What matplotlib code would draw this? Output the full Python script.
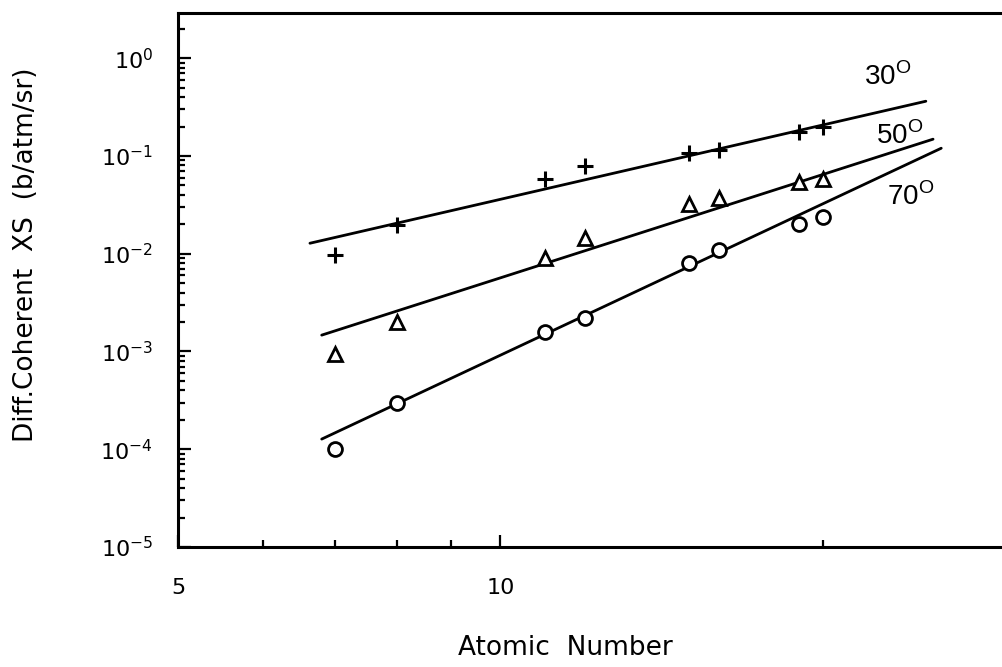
import matplotlib
matplotlib.use("Agg")
import matplotlib.pyplot as plt
from matplotlib.ticker import FixedLocator, NullFormatter

atomic_number = [7, 8, 11, 12, 15, 16, 19, 20]
xs_30deg = [0.0097, 0.0196, 0.058, 0.079, 0.107, 0.115, 0.175, 0.197]
xs_50deg = [0.00095, 0.0020, 0.0090, 0.0144, 0.032, 0.037, 0.054, 0.058]
xs_70deg = [1.0e-4, 2.96e-4, 1.6e-3, 2.2e-3, 8.0e-3, 1.09e-2, 2.0e-2, 2.4e-2]

# Fitted power-law lines (end points)
fit_x_30deg = [6.64, 24.96]
fit_y_30deg = [0.0128, 0.363]
fit_x_50deg = [6.81, 25.35]
fit_y_50deg = [0.00147, 0.1485]
fit_x_70deg = [6.81, 25.8]
fit_y_70deg = [1.27e-4, 0.12]

angle_labels = ["30", "50", "70"]

y_ticks = [1e0, 1e-1, 1e-2, 1e-3, 1e-4, 1e-5]
y_tick_labels = [r"$\mathregular{10^{0}}$", r"$\mathregular{10^{-1}}$", r"$\mathregular{10^{-2}}$",
                 r"$\mathregular{10^{-3}}$", r"$\mathregular{10^{-4}}$", r"$\mathregular{10^{-5}}$"]
x_ticks = [5, 10]
x_minor_ticks = [6, 7, 8, 9, 20]

plt.rcParams['font.family'] = ['DejaVu Sans']

W, H = 1002, 667
fig = plt.figure(figsize=(W / 100, H / 100), dpi=100)
ax = fig.add_axes([178 / W, 1 - 547 / H, (W - 178) / W, (547 - 13) / H])

ax.set_xscale('log')
ax.set_yscale('log')
ax.set_xlim(5, 29.4)
ax.set_ylim(1e-5, 2.9)

line_kw = dict(color='black', linewidth=2.0, solid_capstyle='round')
ax.plot(fit_x_30deg, fit_y_30deg, **line_kw)
ax.plot(fit_x_50deg, fit_y_50deg, **line_kw)
ax.plot(fit_x_70deg, fit_y_70deg, **line_kw)

ax.plot(atomic_number, xs_30deg, linestyle='none', marker='+', markersize=11,
        markeredgewidth=2.2, color='black')
ax.plot(atomic_number, xs_50deg, linestyle='none', marker='^', markersize=10,
        markeredgewidth=2.0, markerfacecolor='white', markeredgecolor='black')
ax.plot(atomic_number, xs_70deg, linestyle='none', marker='o', markersize=10,
        markeredgewidth=2.0, markerfacecolor='white', markeredgecolor='black')

# Angle labels next to the line ends
label_pos = [(21.85, 0.53), (22.4, 0.132), (22.95, 0.0314)]
for text, (lx, ly) in zip(angle_labels, label_pos):
    ax.text(lx, ly, text + r"$^{\mathregular{O}}$", fontsize=20, ha='left', va='baseline',
            family='Liberation Sans')

ax.xaxis.set_major_locator(FixedLocator(x_ticks))
ax.xaxis.set_minor_locator(FixedLocator(x_minor_ticks))
ax.set_xticklabels([str(t) for t in x_ticks])
ax.xaxis.set_minor_formatter(NullFormatter())

ax.yaxis.set_major_locator(FixedLocator(y_ticks))
ax.set_yticklabels(y_tick_labels)
ax.yaxis.set_minor_formatter(NullFormatter())

ax.tick_params(which='both', direction='in', width=1.6, top=False, right=False)
ax.tick_params(which='major', length=9, labelsize=16, pad=18)
ax.tick_params(which='minor', length=5)
ax.tick_params(axis='x', which='major', pad=22)

for side in ['left', 'bottom', 'top']:
    ax.spines[side].set_linewidth(2.2)
ax.spines['right'].set_visible(False)

fig.text(565 / W, 1 - 648 / H, "Atomic  Number", fontsize=19, ha='center', va='center')
fig.text(26 / W, 1 - 255 / H, "Diff.Coherent  XS  (b/atm/sr)", fontsize=19,
         ha='center', va='center', rotation=90)

fig.savefig("out.png", dpi=100)
